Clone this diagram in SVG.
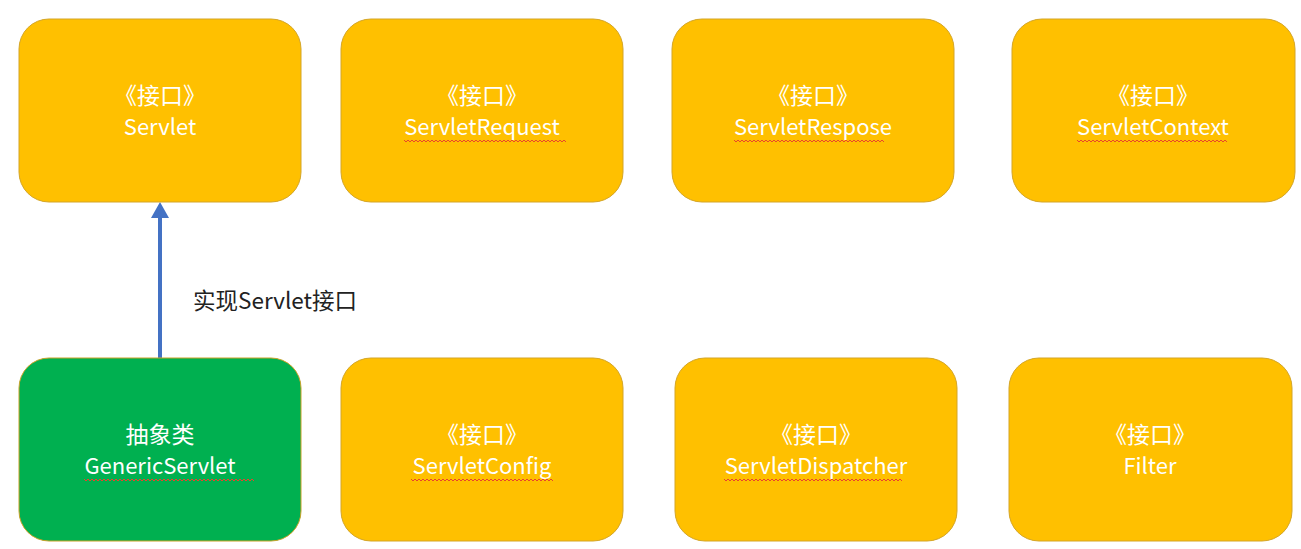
<svg xmlns="http://www.w3.org/2000/svg" width="1301" height="549" viewBox="0 0 1301 549">
<defs>
<style>
.box{fill:#FFC000;stroke:#D4A526;stroke-width:1}
.green{fill:#00B050;stroke:#C9A227;stroke-width:1}
.t{fill:#FFFFFF;font-family:"Noto Sans CJK SC","Noto Sans",sans-serif;font-size:22px;text-anchor:middle}
.c{fill:#FFFFFF;font-family:"Noto Sans CJK SC","Noto Sans",sans-serif;font-size:23px;text-anchor:middle}
.lbl{fill:#222222;font-family:"Noto Sans CJK SC","Noto Sans",sans-serif;font-size:22.5px}
.sq{fill:none;stroke:#E8452C;stroke-width:1}
</style>
<marker id="ah" markerWidth="4" markerHeight="4.5" refX="3" refY="2.25" orient="auto" markerUnits="strokeWidth">
<path d="M0,0 L4,2.25 L0,4.5 Z" fill="#4472C4"/>
</marker>
</defs>
<rect width="1301" height="549" fill="#FFFFFF"/>
<g id="connectors">
<line x1="160" y1="358" x2="160" y2="206" stroke="#4472C4" stroke-width="4" marker-end="url(#ah)"/>
<text class="lbl" x="193" y="309">实现Servlet接口</text>
</g>
<g id="servlet">
<rect class="box" x="19" y="19" width="282" height="183" rx="30"/>
<text class="c" x="160" y="104">《接口》</text>
<text class="t" x="160" y="135">Servlet</text>
</g>
<g id="servletrequest">
<rect class="box" x="341" y="19" width="282" height="183" rx="30"/>
<text class="c" x="482" y="104">《接口》</text>
<text class="t" x="482" y="135">ServletRequest</text>
<path class="sq" d="M404,140 l2,2 l2,-2 l2,2 l2,-2 l2,2 l2,-2 l2,2 l2,-2 l2,2 l2,-2 l2,2 l2,-2 l2,2 l2,-2 l2,2 l2,-2 l2,2 l2,-2 l2,2 l2,-2 l2,2 l2,-2 l2,2 l2,-2 l2,2 l2,-2 l2,2 l2,-2 l2,2 l2,-2 l2,2 l2,-2 l2,2 l2,-2 l2,2 l2,-2 l2,2 l2,-2 l2,2 l2,-2 l2,2 l2,-2 l2,2 l2,-2 l2,2 l2,-2 l2,2 l2,-2 l2,2 l2,-2 l2,2 l2,-2 l2,2 l2,-2 l2,2 l2,-2 l2,2 l2,-2 l2,2 l2,-2 l2,2 l2,-2 l2,2 l2,-2 l2,2 l2,-2 l2,2 l2,-2 l2,2 l2,-2 l2,2 l2,-2 l2,2 l2,-2 l2,2 l2,-2 l2,2 l2,-2 l2,2 l2,-2 l2,2"/>
</g>
<g id="servletrespose">
<rect class="box" x="672" y="19" width="282" height="183" rx="30"/>
<text class="c" x="813" y="104">《接口》</text>
<text class="t" x="813" y="135">ServletRespose</text>
<path class="sq" d="M734,140 l2,2 l2,-2 l2,2 l2,-2 l2,2 l2,-2 l2,2 l2,-2 l2,2 l2,-2 l2,2 l2,-2 l2,2 l2,-2 l2,2 l2,-2 l2,2 l2,-2 l2,2 l2,-2 l2,2 l2,-2 l2,2 l2,-2 l2,2 l2,-2 l2,2 l2,-2 l2,2 l2,-2 l2,2 l2,-2 l2,2 l2,-2 l2,2 l2,-2 l2,2 l2,-2 l2,2 l2,-2 l2,2 l2,-2 l2,2 l2,-2 l2,2 l2,-2 l2,2 l2,-2 l2,2 l2,-2 l2,2 l2,-2 l2,2 l2,-2 l2,2 l2,-2 l2,2 l2,-2 l2,2 l2,-2 l2,2 l2,-2 l2,2 l2,-2 l2,2 l2,-2 l2,2 l2,-2 l2,2 l2,-2 l2,2 l2,-2 l2,2 l2,-2 l2,2"/>
</g>
<g id="servletcontext">
<rect class="box" x="1012" y="19" width="283" height="183" rx="30"/>
<text class="c" x="1153" y="104">《接口》</text>
<text class="t" x="1153" y="135">ServletContext</text>
<path class="sq" d="M1077,140 l2,2 l2,-2 l2,2 l2,-2 l2,2 l2,-2 l2,2 l2,-2 l2,2 l2,-2 l2,2 l2,-2 l2,2 l2,-2 l2,2 l2,-2 l2,2 l2,-2 l2,2 l2,-2 l2,2 l2,-2 l2,2 l2,-2 l2,2 l2,-2 l2,2 l2,-2 l2,2 l2,-2 l2,2 l2,-2 l2,2 l2,-2 l2,2 l2,-2 l2,2 l2,-2 l2,2 l2,-2 l2,2 l2,-2 l2,2 l2,-2 l2,2 l2,-2 l2,2 l2,-2 l2,2 l2,-2 l2,2 l2,-2 l2,2 l2,-2 l2,2 l2,-2 l2,2 l2,-2 l2,2 l2,-2 l2,2 l2,-2 l2,2 l2,-2 l2,2 l2,-2 l2,2 l2,-2 l2,2 l2,-2 l2,2 l2,-2 l2,2 l2,-2 l2,2"/>
</g>
<g id="genericservlet">
<rect class="green" x="19" y="358" width="282" height="183" rx="30"/>
<text class="c" x="160" y="443">抽象类</text>
<text class="t" x="160" y="474">GenericServlet</text>
<path class="sq" d="M84,479 l2,2 l2,-2 l2,2 l2,-2 l2,2 l2,-2 l2,2 l2,-2 l2,2 l2,-2 l2,2 l2,-2 l2,2 l2,-2 l2,2 l2,-2 l2,2 l2,-2 l2,2 l2,-2 l2,2 l2,-2 l2,2 l2,-2 l2,2 l2,-2 l2,2 l2,-2 l2,2 l2,-2 l2,2 l2,-2 l2,2 l2,-2 l2,2 l2,-2 l2,2 l2,-2 l2,2 l2,-2 l2,2 l2,-2 l2,2 l2,-2 l2,2 l2,-2 l2,2 l2,-2 l2,2 l2,-2 l2,2 l2,-2 l2,2 l2,-2 l2,2 l2,-2 l2,2 l2,-2 l2,2 l2,-2 l2,2 l2,-2 l2,2 l2,-2 l2,2 l2,-2 l2,2 l2,-2 l2,2 l2,-2 l2,2 l2,-2 l2,2 l2,-2 l2,2 l2,-2 l2,2 l2,-2 l2,2 l2,-2 l2,2 l2,-2 l2,2 l2,-2 l2,2"/>
</g>
<g id="servletconfig">
<rect class="box" x="341" y="358" width="282" height="183" rx="30"/>
<text class="c" x="482" y="443">《接口》</text>
<text class="t" x="482" y="474">ServletConfig</text>
<path class="sq" d="M411,479 l2,2 l2,-2 l2,2 l2,-2 l2,2 l2,-2 l2,2 l2,-2 l2,2 l2,-2 l2,2 l2,-2 l2,2 l2,-2 l2,2 l2,-2 l2,2 l2,-2 l2,2 l2,-2 l2,2 l2,-2 l2,2 l2,-2 l2,2 l2,-2 l2,2 l2,-2 l2,2 l2,-2 l2,2 l2,-2 l2,2 l2,-2 l2,2 l2,-2 l2,2 l2,-2 l2,2 l2,-2 l2,2 l2,-2 l2,2 l2,-2 l2,2 l2,-2 l2,2 l2,-2 l2,2 l2,-2 l2,2 l2,-2 l2,2 l2,-2 l2,2 l2,-2 l2,2 l2,-2 l2,2 l2,-2 l2,2 l2,-2 l2,2 l2,-2 l2,2 l2,-2 l2,2 l2,-2 l2,2 l2,-2 l2,2"/>
</g>
<g id="servletdispatcher">
<rect class="box" x="675" y="358" width="282" height="183" rx="30"/>
<text class="c" x="816" y="443">《接口》</text>
<text class="t" x="816" y="474">ServletDispatcher</text>
<path class="sq" d="M724,479 l2,2 l2,-2 l2,2 l2,-2 l2,2 l2,-2 l2,2 l2,-2 l2,2 l2,-2 l2,2 l2,-2 l2,2 l2,-2 l2,2 l2,-2 l2,2 l2,-2 l2,2 l2,-2 l2,2 l2,-2 l2,2 l2,-2 l2,2 l2,-2 l2,2 l2,-2 l2,2 l2,-2 l2,2 l2,-2 l2,2 l2,-2 l2,2 l2,-2 l2,2 l2,-2 l2,2 l2,-2 l2,2 l2,-2 l2,2 l2,-2 l2,2 l2,-2 l2,2 l2,-2 l2,2 l2,-2 l2,2 l2,-2 l2,2 l2,-2 l2,2 l2,-2 l2,2 l2,-2 l2,2 l2,-2 l2,2 l2,-2 l2,2 l2,-2 l2,2 l2,-2 l2,2 l2,-2 l2,2 l2,-2 l2,2 l2,-2 l2,2 l2,-2 l2,2 l2,-2 l2,2 l2,-2 l2,2 l2,-2 l2,2 l2,-2 l2,2 l2,-2 l2,2 l2,-2 l2,2 l2,-2 l2,2"/>
</g>
<g id="filter">
<rect class="box" x="1009" y="358" width="283" height="183" rx="30"/>
<text class="c" x="1150" y="443">《接口》</text>
<text class="t" x="1150" y="474">Filter</text>
</g>
</svg>
